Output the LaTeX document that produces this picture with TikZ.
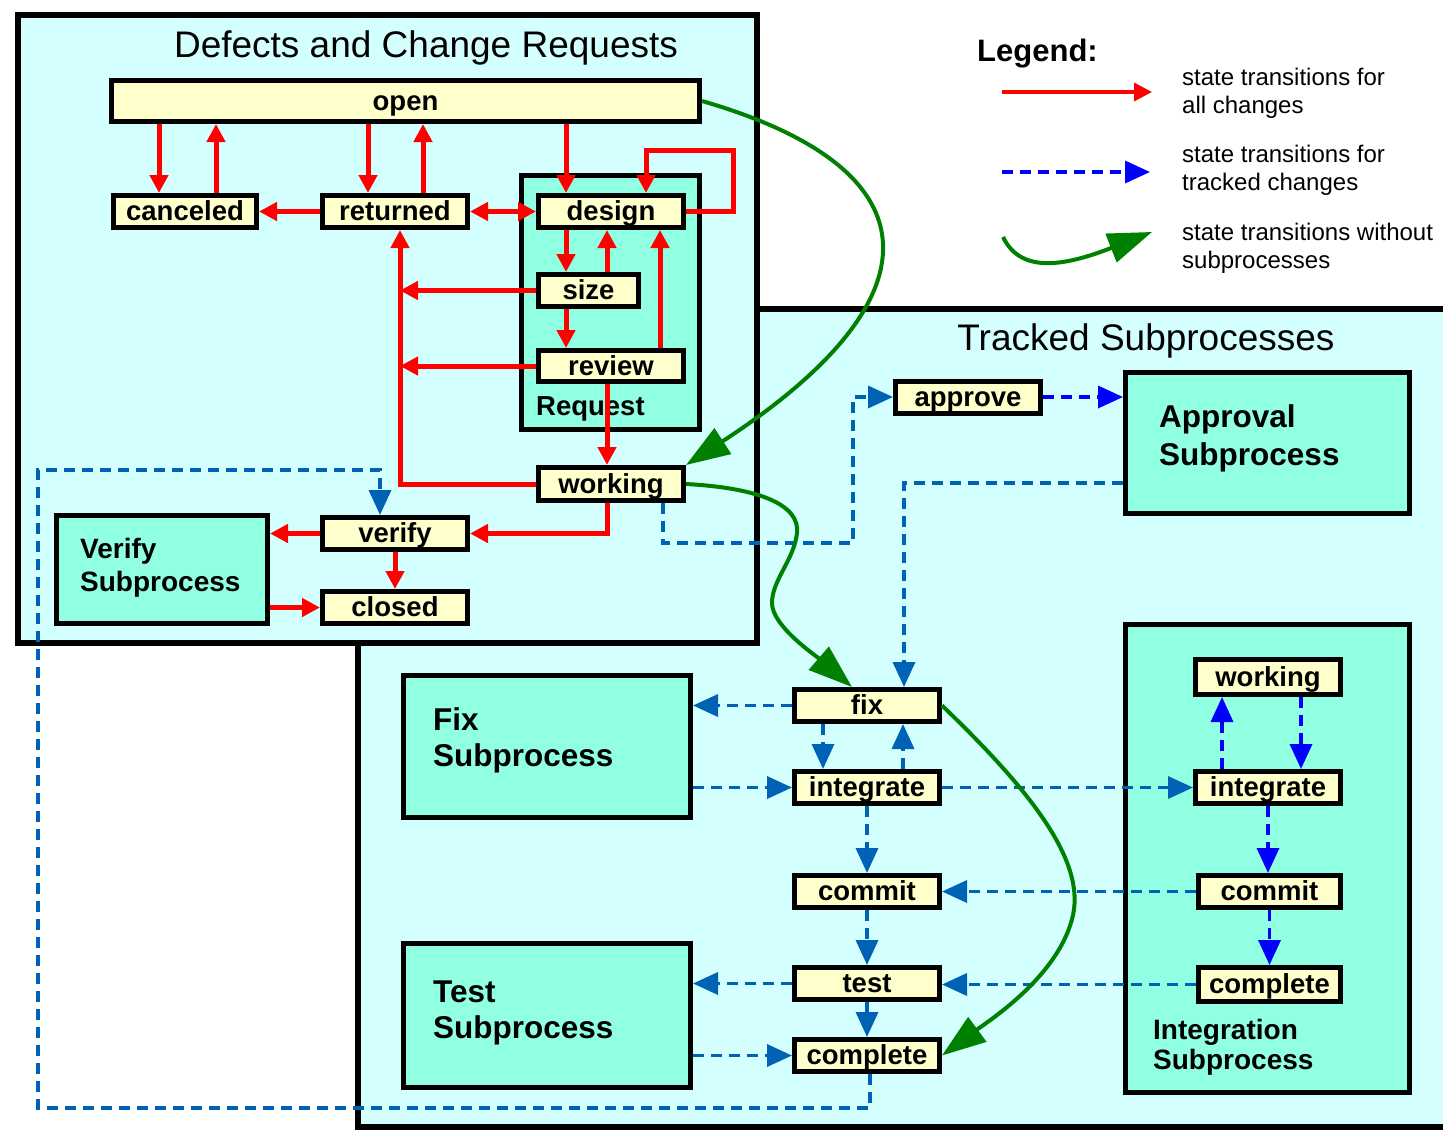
\documentclass[tikz,border=0pt]{standalone}
\usepackage{fontspec}
\setmainfont{Liberation Sans}
\usetikzlibrary{arrows.meta}
\definecolor{bgcyan}{HTML}{D4FFFF}
\definecolor{aqua}{HTML}{90FFE2}
\definecolor{cream}{HTML}{FFFFCC}
\definecolor{trkblue}{HTML}{0062B4}
\definecolor{pureblue}{HTML}{0000FF}
\definecolor{grn}{HTML}{008000}
\definecolor{rd}{HTML}{FF0000}
\newcommand\lblfont{\bfseries\fontsize{27.5}{28}\selectfont}
\newcommand\titlefnt{\fontsize{37}{40}\selectfont}
\newcommand\legfnt{\fontsize{24}{28}\selectfont}
\tikzset{
  rtip/.tip={Triangle[length=18pt,width=18pt]},
  btip/.tip={Triangle[length=25pt,width=22pt]},
  gtip/.tip={Triangle[length=44pt,width=30pt]},
}
\begin{document}
\begin{tikzpicture}[x=1pt,y=-1pt,
  state/.style={draw=black,line width=5pt,fill=cream,minimum width=145,minimum height=32,inner sep=0pt,text height=22pt,text depth=4pt,font=\lblfont},
  cont/.style={draw=black,line width=6pt,fill=bgcyan,inner sep=0pt},
  subbox/.style={draw=black,line width=5pt,fill=aqua,inner sep=0pt},
  subtxt/.style={anchor=west,align=left,inner sep=0pt},
  legtxt/.style={anchor=west,align=left,inner sep=0pt,font=\legfnt},
  redarr/.style={draw=rd,line width=5pt,-{rtip}},
  redboth/.style={draw=rd,line width=5pt,{rtip}-{rtip}},
  bluearr/.style={draw=trkblue,line width=3.5pt,dash pattern=on 11pt off 7pt,-{btip}},
  pbluearr/.style={bluearr,draw=pureblue},
  grnarr/.style={draw=grn,line width=4pt,-{gtip}},
]
\useasboundingbox (0,0) rectangle (1443,1133);
\fill[white] (0,0) rectangle (1443,1133);

% containers
\node[cont,minimum width=1089,minimum height=818] (tracked) at (902.5,718) {};
\node[cont,minimum width=739,minimum height=628] (defects) at (387.5,329) {};
\node[font=\titlefnt] (deftitle) at (426,48) {Defects and Change Requests};
\node[font=\titlefnt] (trktitle) at (1146,341) {Tracked Subprocesses};

% sub boxes
\node[subbox,minimum width=178,minimum height=254] (reqbox) at (610.5,302.5) {};
\node[font=\lblfont,anchor=west,inner sep=0pt] (reqtxt) at (536,409) {Request};
\node[subbox,minimum width=284,minimum height=468] (intbox) at (1267.5,858.5) {};
\node[subtxt,font=\bfseries\fontsize{28}{30}\selectfont] (inttxt) at (1153,1047) {Integration\\Subprocess};
\node[subbox,minimum width=211,minimum height=108] (versub) at (162,569.5) {};
\node[subtxt,font=\bfseries\fontsize{28}{33}\selectfont] (vertxt) at (80,567.5) {Verify\\Subprocess};
\node[subbox,minimum width=287,minimum height=142] (fixsub) at (547,746.5) {};
\node[subtxt,font=\bfseries\fontsize{31.5}{36}\selectfont] (fixtxt) at (433,740) {Fix\\Subprocess};
\node[subbox,minimum width=287,minimum height=144] (testsub) at (547,1015.5) {};
\node[subtxt,font=\bfseries\fontsize{31.5}{36}\selectfont] (testtxt) at (433,1013) {Test\\Subprocess};
\node[subbox,minimum width=284,minimum height=141] (appsub) at (1267.5,443) {};
\node[subtxt,font=\bfseries\fontsize{31.5}{38}\selectfont] (apptxt) at (1159,438) {Approval\\Subprocess};

% states
\node[state,minimum width=588,minimum height=41] (open) at (405.5,101) {open};
\node[state,minimum width=143] (canceled) at (185,211.5) {canceled};
\node[state] (returned) at (395,211.5) {returned};
\node[state] (design) at (611,211.5) {design};
\node[state,minimum width=100] (size) at (588.5,290.5) {size};
\node[state,minimum height=31] (review) at (611,366) {review};
\node[state,minimum height=33] (working) at (611,484) {working};
\node[state] (verify) at (395,533.5) {verify};
\node[state] (closed) at (395,607.5) {closed};
\node[state] (approve) at (968,397) {approve};
\node[state] (fix) at (867,705.5) {fix};
\node[state] (integrate) at (867,787.5) {integrate};
\node[state] (commit) at (867,891.5) {commit};
\node[state] (test) at (867,983.5) {test};
\node[state] (complete) at (867,1055.5) {complete};
\node[state,minimum height=35] (iworking) at (1268,677) {working};
\node[state] (iintegrate) at (1268,787.5) {integrate};
\node[state,minimum width=142] (icommit) at (1269.5,891.5) {commit};
\node[state,minimum width=142,minimum height=34] (icomplete) at (1269.5,984.5) {complete};

% legend
\node[font=\bfseries\fontsize{31}{34}\selectfont,anchor=west,inner sep=0pt] (legtitle) at (977,54) {Legend:};
\coordinate (lr1) at (1002,92); \coordinate (lr2) at (1152,92);
\draw[redarr,line width=3.5pt] (lr1) -- (lr2);
\node[legtxt] (lt1) at (1182,93) {state transitions for\\all changes};
\coordinate (lb1) at (1002,172); \coordinate (lb2) at (1150,172);
\draw[pbluearr] (lb1) -- (lb2);
\node[legtxt] (lt2) at (1182,170.5) {state transitions for\\tracked changes};
\coordinate (lg1) at (1003,237); \coordinate (lg2) at (1152,232);
\draw[grnarr] (lg1) .. controls (1020,272) and (1060,268) .. (lg2);
\node[legtxt] (lt3) at (1182,248) {state transitions without\\subprocesses};

% red transitions
\draw[redarr] ([xshift=-26]canceled.north |- open.south) -- ([xshift=-26]canceled.north);
\draw[redarr] ([xshift=31]canceled.north) -- ([xshift=31]canceled.north |- open.south);
\draw[redarr] ([xshift=-27]returned.north |- open.south) -- ([xshift=-27]returned.north);
\draw[redarr] ([xshift=28]returned.north) -- ([xshift=28]returned.north |- open.south);
\draw[redarr] ([xshift=-45]design.north |- open.south) -- ([xshift=-45]design.north);
\coordinate (loopR) at (733,150);
\draw[redarr] (design.east) -| (loopR) -| ([xshift=35]design.north);
\draw[redarr] (returned.west) -- (canceled.east);
\draw[redboth] (returned.east) -- (design.west);
\draw[redarr] ([xshift=-45]design.south) -- ([xshift=-45]design.south |- size.north);
\draw[redarr] ([xshift=-4]design.south |- size.north) -- ([xshift=-4]design.south);
\draw[redarr] ([xshift=49]design.south |- review.north) -- ([xshift=49]design.south);
\draw[redarr] ([xshift=-45]review.north |- size.south) -- ([xshift=-45]review.north);
\draw[redarr] ([xshift=-4]review.south) -- ([xshift=-4]working.north);
\coordinate (trunk) at ([xshift=5]returned.south);
\draw[redarr] (working.west) -| (trunk);
\draw[redarr] (size.west) -- (size.west -| trunk);
\draw[redarr] (review.west) -- (review.west -| trunk);
\draw[redarr] ([xshift=-4]working.south) |- (verify.east);
\draw[redarr] (verify.west) -- (verify.west -| versub.east);
\draw[redarr] (verify.south) -- (closed.north);
\draw[redarr] (versub.east |- closed.west) -- (closed.west);

% blue transitions
\coordinate (bendA) at (853,543);
\draw[bluearr] ([xshift=52]working.south) |- (bendA) |- (approve.west);
\draw[pbluearr] (approve.east) -- (approve.east -| appsub.west);
\draw[bluearr] ([yshift=-40]appsub.west) -| ([xshift=37]fix.north);
\draw[bluearr] (fix.west) -- (fix.west -| fixsub.east);
\draw[bluearr] ([xshift=-44]fix.south) -- ([xshift=-44]fix.south |- integrate.north);
\draw[bluearr] ([xshift=36]fix.south |- integrate.north) -- ([xshift=36]fix.south);
\draw[bluearr] (fixsub.east |- integrate.west) -- (integrate.west);
\draw[bluearr] (integrate.east) -- (iintegrate.west);
\draw[bluearr] (integrate.south) -- (commit.north);
\draw[bluearr] (commit.south) -- (test.north);
\draw[bluearr] (icommit.west) -- (icommit.west -| commit.east);
\draw[bluearr] (icomplete.west) -- (icomplete.west -| test.east);
\draw[bluearr] (test.west) -- (test.west -| testsub.east);
\draw[bluearr] (test.south) -- (complete.north);
\draw[bluearr] (testsub.east |- complete.west) -- (complete.west);
\coordinate (loopA) at (38,1108);
\coordinate (loopB) at (380,470);
\draw[bluearr] ([xshift=3]complete.south) |- (loopA) |- (loopB) -- ([xshift=-15]verify.north);

% integration subprocess
\draw[pbluearr] ([xshift=-46]iintegrate.north) -- ([xshift=-46]iintegrate.north |- iworking.south);
\draw[pbluearr] ([xshift=33]iintegrate.north |- iworking.south) -- ([xshift=33]iintegrate.north);
\draw[pbluearr] (iintegrate.south) -- (iintegrate.south |- icommit.north);
\draw[pbluearr] (icommit.south) -- (icomplete.north);

% green transitions
\draw[grnarr] (open.east) .. controls (940,170) and (940,300) .. (working.north east);
\draw[grnarr] (working.east) .. controls (760,488) and (800,505) .. (797,533)
   .. controls (794,560) and (772,580) .. (772,603)
   .. controls (772,626) and (815,655) .. ([xshift=-15]fix.north);
\draw[grnarr] (fix.east) .. controls (1030,790) and (1085,860) .. (1073,915)
   .. controls (1060,975) and (990,1020) .. (complete.east);
\end{tikzpicture}
\end{document}
